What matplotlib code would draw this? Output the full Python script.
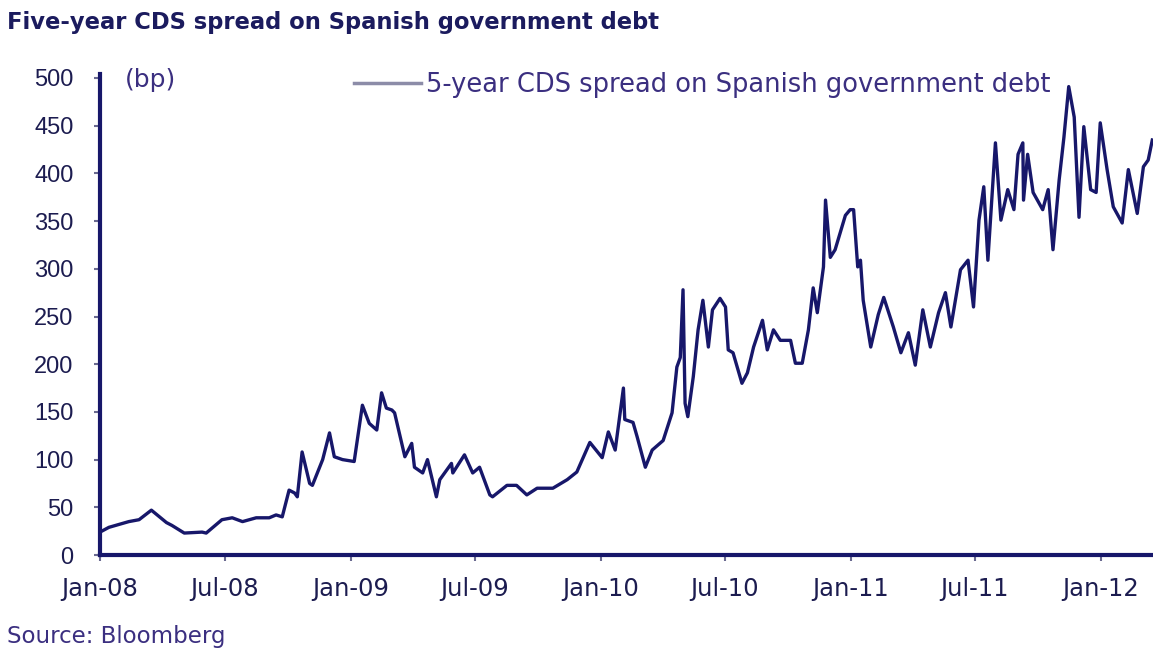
import matplotlib
matplotlib.use("Agg")
import matplotlib.pyplot as plt
import pandas as pd

dates = [
    "2008-01-01", "2008-01-14", "2008-02-12", "2008-02-27", "2008-03-16", "2008-04-07", "2008-04-15",
    "2008-05-03", "2008-05-29", "2008-06-04", "2008-06-27", "2008-07-12", "2008-07-27", "2008-08-16",
    "2008-09-04", "2008-09-14", "2008-09-23", "2008-10-03", "2008-10-11", "2008-10-15", "2008-10-22",
    "2008-11-02", "2008-11-06", "2008-11-21", "2008-12-01", "2008-12-08", "2008-12-20", "2009-01-06",
    "2009-01-18", "2009-01-28", "2009-02-08", "2009-02-15", "2009-02-22", "2009-03-02", "2009-03-06",
    "2009-03-21", "2009-03-31", "2009-04-04", "2009-04-16", "2009-04-23", "2009-05-06", "2009-05-11",
    "2009-05-28", "2009-05-30", "2009-06-16", "2009-06-28", "2009-07-08", "2009-07-23", "2009-07-27",
    "2009-08-17", "2009-08-31", "2009-09-15", "2009-09-30", "2009-10-23", "2009-11-13", "2009-11-27",
    "2009-12-16", "2010-01-03", "2010-01-12", "2010-01-22", "2010-02-03", "2010-02-05", "2010-02-17",
    "2010-02-23", "2010-03-07", "2010-03-17", "2010-04-02", "2010-04-15", "2010-04-22", "2010-04-27",
    "2010-05-01", "2010-05-04", "2010-05-08", "2010-05-16", "2010-05-23", "2010-05-30", "2010-06-07",
    "2010-06-13", "2010-06-24", "2010-07-02", "2010-07-06", "2010-07-13", "2010-07-26", "2010-08-03",
    "2010-08-12", "2010-08-25", "2010-09-01", "2010-09-10", "2010-09-20", "2010-10-05", "2010-10-12",
    "2010-10-22", "2010-10-31", "2010-11-07", "2010-11-13", "2010-11-22", "2010-11-25", "2010-12-02",
    "2010-12-09", "2010-12-24", "2010-12-31", "2011-01-05", "2011-01-11", "2011-01-15", "2011-01-19",
    "2011-01-30", "2011-02-10", "2011-02-18", "2011-03-04", "2011-03-15", "2011-03-26", "2011-04-05",
    "2011-04-16", "2011-04-27", "2011-05-09", "2011-05-19", "2011-05-27", "2011-06-10", "2011-06-21",
    "2011-06-29", "2011-07-07", "2011-07-14", "2011-07-20", "2011-07-31", "2011-08-08", "2011-08-18",
    "2011-08-27", "2011-09-02", "2011-09-09", "2011-09-10", "2011-09-16", "2011-09-24", "2011-10-08",
    "2011-10-16", "2011-10-23", "2011-11-01", "2011-11-08", "2011-11-15", "2011-11-23", "2011-11-30",
    "2011-12-07", "2011-12-17", "2011-12-25", "2011-12-31", "2012-01-10", "2012-01-19", "2012-02-01",
    "2012-02-10", "2012-02-23", "2012-03-03", "2012-03-10", "2012-03-16",
]
cds_bp = [
    24, 29, 35, 37, 47, 34, 31,
    23, 24, 23, 37, 39, 35, 39,
    39, 42, 40, 68, 65, 61, 108,
    75, 73, 100, 128, 103, 100, 98,
    157, 138, 131, 170, 154, 152, 149,
    103, 117, 92, 86, 100, 61, 79,
    96, 86, 105, 86, 92, 63, 61,
    73, 73, 63, 70, 70, 79, 87,
    118, 102, 129, 110, 175, 142, 139,
    124, 92, 110, 120, 149, 197, 207,
    278, 159, 145, 187, 236, 267, 218,
    257, 269, 260, 215, 212, 180, 191,
    218, 246, 215, 236, 225, 225, 201,
    201, 236, 280, 254, 302, 372, 312,
    320, 356, 362, 362, 302, 309, 267,
    218, 252, 270, 239, 212, 233, 199,
    257, 218, 254, 275, 239, 299, 309,
    260, 351, 386, 309, 432, 351, 383,
    362, 420, 432, 372, 420, 380, 362,
    383, 320, 393, 438, 491, 459, 354,
    449, 383, 380, 453, 404, 365, 348,
    404, 358, 407, 414, 435,
]
y_ticks = [0, 50, 100, 150, 200, 250, 300, 350, 400, 450, 500]
x_tick_dates = ["2008-01-01", "2008-07-01", "2009-01-01", "2009-07-01", "2010-01-01",
                "2010-07-01", "2011-01-01", "2011-07-01", "2012-01-01"]
x_tick_labels = ["Jan-08", "Jul-08", "Jan-09", "Jul-09", "Jan-10", "Jul-10", "Jan-11", "Jul-11", "Jan-12"]

navy = "#17176a"
text_col = "#1c1c50"
purple = "#3b2f80"

fig = plt.figure(figsize=(11.53, 6.52), dpi=100)
ax = fig.add_axes([100 / 1153, 1 - 555 / 652, 1 - 100 / 1153, (555 - 78) / 652])

x = pd.to_datetime(dates)
ax.plot(x, cds_bp, color=navy, lw=2.4, label="5-year CDS spread on Spanish government debt")

ax.set_ylim(0, 500)
ax.set_xlim(pd.Timestamp("2008-01-01"), pd.Timestamp("2012-03-17"))
ax.set_yticks(y_ticks)
ax.set_xticks(pd.to_datetime(x_tick_dates))
ax.set_xticklabels(x_tick_labels)

for s in ["top", "right"]:
    ax.spines[s].set_visible(False)
for s in ["left", "bottom"]:
    ax.spines[s].set_linewidth(3)
    ax.spines[s].set_color(navy)
ax.spines["left"].set_bounds(0, 504)

ax.tick_params(axis="both", colors="#6a6a90", width=1.5, length=4, direction="out")
ax.tick_params(axis="x", labelcolor=text_col, labelsize=17.5, pad=12)
ax.tick_params(axis="y", labelcolor=text_col, labelsize=17, pad=15)
for lbl in ax.get_yticklabels():
    lbl.set_family("Liberation Sans")

leg = ax.legend(loc="center", bbox_to_anchor=(0.609, 0.869), bbox_transform=fig.transFigure,
                frameon=False, fontsize=18.5, handlelength=2.6, handletextpad=0.2,
                labelcolor=purple)
leg.get_lines()[0].set_color("#8c8ca8")
leg.get_lines()[0].set_linewidth(2.5)

fig.text(0.108, 0.878, "(bp)", fontsize=18, color=purple, va="center")
fig.text(0.006, 0.965, "Five-year CDS spread on Spanish government debt", fontsize=16.3,
         fontweight="bold", color="#1b1b5e", va="center")
fig.text(0.006, 0.024, "Source: Bloomberg", fontsize=16.5, color=purple, va="center")

fig.savefig("out.png", dpi=100)
